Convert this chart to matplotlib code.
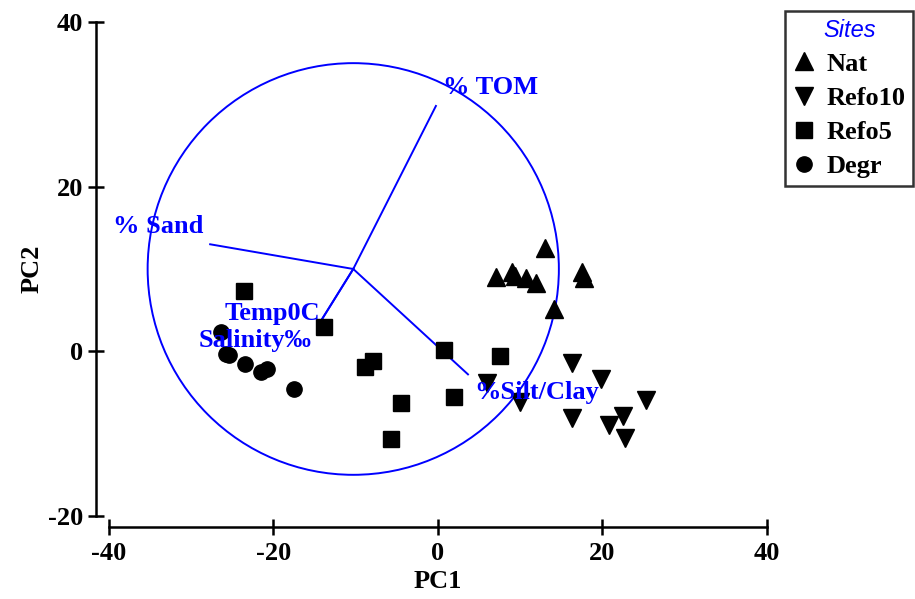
import numpy as np
import matplotlib
matplotlib.use("Agg")
import matplotlib.pyplot as plt
from matplotlib.patches import Circle
from matplotlib.lines import Line2D

# ── site scores (PC1, PC2) ──
nat_x = [13.0, 7.0, 9.0, 9.4, 10.7, 11.9, 17.5, 17.7, 14.1]
nat_y = [12.6, 9.0, 9.6, 9.2, 8.9, 8.3, 9.6, 8.9, 5.1]

refo10_x = [16.3, 6.0, 10.0, 19.8, 25.3, 16.3, 22.5, 20.8, 22.7]
refo10_y = [-1.4, -3.8, -6.2, -3.4, -5.9, -8.1, -7.8, -9.0, -10.5]

refo5_x = [-23.6, -13.9, -8.9, -7.9, -4.5, -5.7, 0.7, 7.5, 1.9]
refo5_y = [7.3, 3.0, -1.9, -1.2, -6.3, -10.6, 0.1, -0.6, -5.5]

degr_x = [-26.4, -25.8, -25.4, -23.5, -21.5, -20.8, -17.5]
degr_y = [2.3, -0.3, -0.5, -1.5, -2.5, -2.2, -4.6]

# ── environmental vectors ──
vec_names = ["% TOM", "% Sand", "%Silt/Clay", "Temp0C", "Salinity‰"]
vec_end_x = [-0.25, -27.7, 3.65, -14.35, -14.35]
vec_end_y = [29.8, 13.0, -2.8, 3.5, 3.5]
lab_x = [0.6, -39.5, 4.4, -25.9, -29.1]
lab_y = [32.0, 15.2, -5.0, 4.6, 1.3]

center = (-10.3, 10.0)
radius = 25.0

xticks = [-40, -20, 0, 20, 40]
yticks = [-20, 0, 20, 40]

serif = ["Liberation Serif", "DejaVu Serif"]
plt.rcParams["font.family"] = serif
plt.rcParams["font.weight"] = "bold"
plt.rcParams["axes.unicode_minus"] = False
blue = "#0000ff"
fs = 19

fig = plt.figure(figsize=(9.15, 5.99), dpi=100)
ax = fig.add_axes([0.1191, 0.1386, 0.7191, 0.8247])

ax.add_patch(Circle(center, radius, fill=False, ec=blue, lw=1.4))
for ex, ey in zip(vec_end_x, vec_end_y):
    ax.plot([center[0], ex], [center[1], ey], color=blue, lw=1.4)

ms = dict(linestyle="none", color="black")
ax.plot(nat_x, nat_y, marker="^", markersize=13, **ms)
ax.plot(refo10_x, refo10_y, marker="v", markersize=13, **ms)
ax.plot(refo5_x, refo5_y, marker="s", markersize=11, **ms)
ax.plot(degr_x, degr_y, marker="o", markersize=11, **ms)

for name, tx, ty in zip(vec_names, lab_x, lab_y):
    ax.text(tx, ty, name, color=blue, fontsize=fs, fontweight="bold",
            ha="left", va="center")

ax.set_xlim(-40, 40)
ax.set_ylim(-20, 40)
ax.set_xticks(xticks)
ax.set_yticks(yticks)
for s in ["top", "right"]:
    ax.spines[s].set_visible(False)
ax.spines["left"].set_position(("outward", 9))
ax.spines["bottom"].set_position(("outward", 8))
for s in ["left", "bottom"]:
    ax.spines[s].set_linewidth(1.8)
ax.tick_params(direction="inout", length=11, width=1.8, labelsize=fs)
ax.tick_params(axis="x", pad=5)
ax.tick_params(axis="y", pad=4)
ax.set_xlabel("PC1", fontsize=fs, fontweight="bold", labelpad=4)
ax.set_ylabel("PC2", fontsize=fs, fontweight="bold", labelpad=3)

handles = [
    Line2D([], [], marker="^", markersize=13, **ms),
    Line2D([], [], marker="v", markersize=13, **ms),
    Line2D([], [], marker="s", markersize=11, **ms),
    Line2D([], [], marker="o", markersize=11, **ms),
]
leg = fig.legend(handles, ["Nat", "Refo10", "Refo5", "Degr"],
                 loc="upper right", bbox_to_anchor=(0.998, 0.982),
                 frameon=True, fancybox=False, edgecolor="black",
                 prop=dict(family=serif, weight="bold", size=fs),
                 title="Sites", handlelength=0.85, handletextpad=0.4,
                 labelspacing=0.4, borderpad=0.3, borderaxespad=0)
leg.get_frame().set_linewidth(1.8)
leg.get_title().set_fontfamily(["Liberation Sans", "DejaVu Sans"])
leg.get_title().set_fontstyle("italic")
leg.get_title().set_fontweight("normal")
leg.get_title().set_color(blue)
leg.get_title().set_fontsize(17)

fig.savefig("out.png", dpi=100)
